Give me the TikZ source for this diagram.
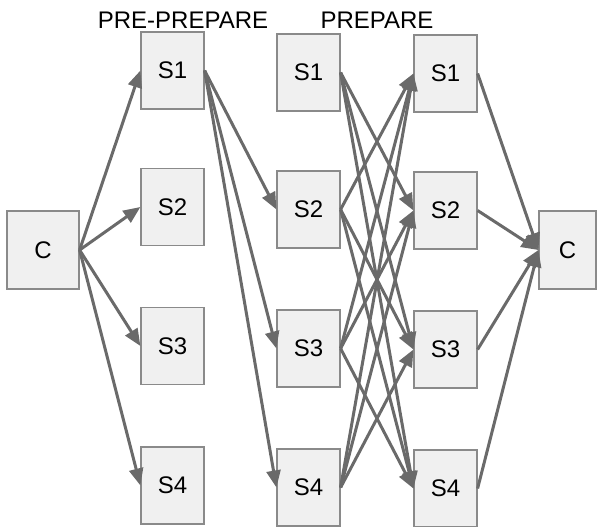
\documentclass[tikz,border=0pt]{standalone}
\usepackage{fontspec}
\setmainfont{Liberation Sans}
\usetikzlibrary{arrows.meta}
\definecolor{boxfill}{HTML}{F0F0F0}
\definecolor{boxline}{HTML}{8A8A8A}
\definecolor{arrowc}{HTML}{6A6A6A}
\begin{document}
\begin{tikzpicture}[x=1pt,y=-1pt,
  srv/.style={draw=boxline, fill=boxfill, line width=1.2pt, minimum width=63pt, minimum height=77pt, inner sep=0pt, font=\fontsize{24}{28}\selectfont},
  lbl/.style={font=\fontsize{24}{28}\selectfont, inner sep=0pt},
  msg/.style={draw=arrowc, line width=3pt, -{Triangle[length=17pt,width=14pt]}}]
\useasboundingbox (0,0) rectangle (597,527);
\node[lbl] (lpp) at (183,20) {PRE-PREPARE};
\node[lbl] (lp) at (377,20) {PREPARE};
\node[srv, minimum width=72pt, minimum height=78pt] (c0) at (43,250) {C};
\node[srv] (a1) at (172.5,70.5) {S1};
\node[srv] (a2) at (172.5,207) {S2};
\node[srv] (a3) at (172.5,346) {S3};
\node[srv] (a4) at (172.5,485.5) {S4};
\node[srv] (b1) at (308.5,72.5) {S1};
\node[srv] (b2) at (308.5,209.5) {S2};
\node[srv] (b3) at (308.5,348.5) {S3};
\node[srv] (b4) at (308.5,487.5) {S4};
\node[srv] (d1) at (445.5,73.5) {S1};
\node[srv] (d2) at (445.5,210.5) {S2};
\node[srv] (d3) at (445.5,349.5) {S3};
\node[srv] (d4) at (445.5,488.5) {S4};
\node[srv, minimum width=57pt, minimum height=78pt] (c1) at (567.5,250) {C};
\foreach \t in {a1,a2,a3,a4} \draw[msg] (c0.east) -- (\t.west);
\foreach \t in {b2,b3,b4} \draw[msg] (a1.east) -- (\t.west);
\foreach \s in {1,2,3,4} {
  \foreach \t in {1,2,3,4} {
    \ifnum\s=\t\else \draw[msg] (b\s.east) -- (d\t.west); \fi
  }
}
\foreach \s in {d1,d2,d3,d4} \draw[msg] (\s.east) -- (c1.west);
\end{tikzpicture}
\end{document}
